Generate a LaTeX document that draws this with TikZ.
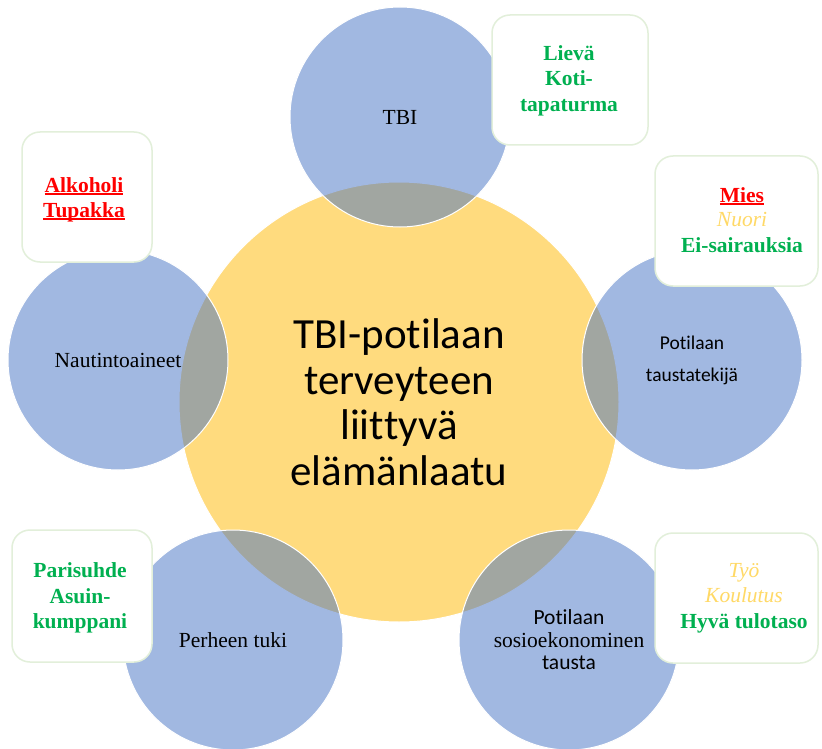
\documentclass[tikz,border=0pt]{standalone}
\usepackage{fontspec}
\setmainfont{Liberation Serif}
\newfontfamily\calib[Ligatures=NoCommon]{Carlito}
\definecolor{yellowc}{HTML}{FFDB7E}
\definecolor{bluec}{HTML}{4472C4}
\definecolor{greenc}{HTML}{00B050}
\definecolor{redc}{HTML}{FF0000}
\definecolor{goldc}{HTML}{FFD966}
\definecolor{boxg}{HTML}{E2EFDA}
\newcommand\myul[1]{\setbox0\hbox{#1}\rlap{\rule[-2.6pt]{\wd0}{1.4pt}}\box0}
\begin{document}
\begin{tikzpicture}[x=1pt,y=-1pt,
  bigc/.style={circle, inner sep=0pt, minimum size=440pt, fill=yellowc, draw=white, line width=1pt, align=center, font=\calib\fontsize{43}{45.5}\selectfont},
  smallc/.style={circle, inner sep=0pt, minimum size=220pt, fill=bluec, fill opacity=0.5, text opacity=1, draw=white, line width=1pt, align=center, font=\fontsize{21.5}{25}\selectfont},
  tbox/.style={rectangle, rounded corners=18pt, draw=boxg, line width=1.5pt, fill=white, inner sep=0pt},
  ln/.style={anchor=base, inner sep=0pt, font=\bfseries\fontsize{21.5}{25}\selectfont},
  lni/.style={anchor=base, inner sep=0pt, font=\itshape\fontsize{21.5}{25}\selectfont, text=goldc}
]
\useasboundingbox (0,0) rectangle (822,749);
\fill[white] (0,0) rectangle (822,749);

\node[bigc] (core) at (399,402) {TBI-potilaan\\terveyteen\\lii\kern0pt t\kern0pt tyvä\\elämänlaatu};

\node[smallc] (tbi) at (400,117) {TBI};
\node[smallc] (naut) at (118,360) {Nautintoaineet};
\node[smallc, font=\calib\fontsize{19.5}{32}\selectfont] (tausta) at (692,360) {Potilaan\\taustatekijä};
\node[smallc] (perhe) at (233,640) {Perheen tuki};
\node[smallc, font=\fontsize{21.5}{22.5}\selectfont] (sosio) at (569,640) {{\calib Potilaan}\\sosioekonominen\\{\calib tausta}};

% boxes
\node[tbox, minimum width=156pt, minimum height=130pt] (b1) at (570,80) {};
\node[tbox, minimum width=130pt, minimum height=130pt] (b2) at (87,197) {};
\node[tbox, minimum width=163pt, minimum height=130pt] (b3) at (736.5,221) {};
\node[tbox, minimum width=140pt, minimum height=132pt] (b4) at (82,596) {};
\node[tbox, minimum width=163pt, minimum height=130pt] (b5) at (736.5,598) {};

% box texts
\node[ln, text=greenc] (b1a) at (569,61) {Lievä};
\node[ln, text=greenc] (b1b) at (569,86) {Koti-};
\node[ln, text=greenc] (b1c) at (569,112) {tapaturma};

\node[ln, text=redc] (b2a) at (84,192) {\myul{Alkoholi}};
\node[ln, text=redc] (b2b) at (84,217) {\myul{Tupakka}};

\node[ln, text=redc] (b3a) at (742,202) {\myul{Mies}};
\node[lni] (b3b) at (742,226) {Nuori};
\node[ln, text=greenc] (b3c) at (742,252) {Ei-sairauksia};

\node[ln, text=greenc] (b4a) at (80,577) {Parisuhde};
\node[ln, text=greenc] (b4b) at (80,603) {Asuin-};
\node[ln, text=greenc] (b4c) at (80,628) {kumppani};

\node[lni] (b5a) at (744,577) {Työ};
\node[lni] (b5b) at (744,602) {Koulutus};
\node[ln, text=greenc] (b5c) at (744,628) {Hyvä tulotaso};
\end{tikzpicture}
\end{document}
